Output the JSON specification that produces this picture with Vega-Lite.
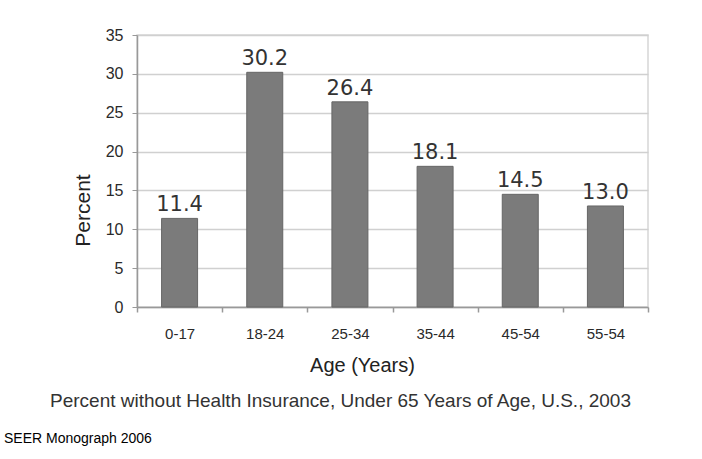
{
  "$schema": "https://vega.github.io/schema/vega-lite/v6.json",
  "width": 511,
  "height": 272,
  "autosize": {"type": "none"},
  "padding": {"left": 137, "top": 35, "right": 54, "bottom": 152},
  "background": "white",
  "config": {
    "view": {"stroke": "#d6d6d6", "strokeWidth": 1.5}
  },
  "title": {
    "text": "SEER Monograph 2006",
    "orient": "bottom",
    "anchor": "start",
    "frame": "group",
    "dx": -133,
    "offset": 22,
    "font": "Liberation Sans",
    "fontSize": 14,
    "fontWeight": "normal",
    "color": "#000000"
  },
  "data": {
    "values": [
      {"age": "0-17", "pct": 11.4},
      {"age": "18-24", "pct": 30.2},
      {"age": "25-34", "pct": 26.4},
      {"age": "35-44", "pct": 18.1},
      {"age": "45-54", "pct": 14.5},
      {"age": "55-54", "pct": 13.0}
    ]
  },
  "encoding": {
    "y": {
      "field": "pct", "type": "quantitative",
      "scale": {"domain": [0, 35]},
      "axis": {
        "values": [0, 5, 10, 15, 20, 25, 30, 35],
        "labelOverlap": false,
        "labelFont": "Liberation Sans",
        "labelFontSize": 16,
        "labelColor": "#2a2a2a",
        "labelPadding": 9,
        "ticks": true,
        "tickSize": 5,
        "tickColor": "#999999",
        "domain": true,
        "domainColor": "#999999",
        "domainWidth": 1.5,
        "grid": true,
        "gridColor": "#d0d0d0",
        "gridWidth": 1.5,
        "title": "Percent",
        "titleFont": "Liberation Sans",
        "titleFontSize": 21,
        "titleFontWeight": "normal",
        "titleColor": "#222222",
        "titleX": -54,
        "titleY": 175,
        "titleBaseline": "middle"
      }
    }
  },
  "layer": [
    {
      "mark": {"type": "bar", "size": 36, "color": "#7b7b7b", "stroke": "#666666", "strokeWidth": 1},
      "encoding": {
        "x": {
          "field": "age", "type": "nominal", "sort": null,
          "scale": {"paddingInner": 0, "paddingOuter": 0},
          "axis": {
            "orient": "bottom",
            "labelAngle": 0,
            "labelFont": "Liberation Sans",
            "labelFontSize": 15,
            "labelColor": "#2a2a2a",
            "labelBaseline": "middle",
            "labelPadding": 21,
            "ticks": true,
            "tickBand": "extent",
            "tickSize": 5,
            "tickWidth": 1.5,
            "tickColor": "#999999",
            "domain": true,
            "domainColor": "#999999",
            "domainWidth": 1.5,
            "grid": false,
            "title": "Age (Years)",
            "titleFont": "Liberation Sans",
            "titleFontSize": 20,
            "titleFontWeight": "normal",
            "titleColor": "#222222",
            "titleX": 225,
            "titleY": 58,
            "titleBaseline": "middle"
          }
        }
      }
    },
    {
      "mark": {"type": "text", "baseline": "bottom", "dy": -3, "font": "DejaVu Sans", "fontSize": 21, "color": "#333333"},
      "encoding": {
        "x": {
          "field": "age", "type": "nominal", "sort": null,
          "axis": {
            "orient": "bottom",
            "labels": false,
            "ticks": false,
            "domain": false,
            "grid": false,
            "title": "Percent without Health Insurance, Under 65 Years of Age, U.S., 2003",
            "titleFont": "Liberation Sans",
            "titleFontSize": 19,
            "titleFontWeight": "normal",
            "titleColor": "#333333",
            "titleX": 203,
            "titleY": 93,
            "titleBaseline": "middle"
          }
        },
        "text": {"field": "pct", "type": "quantitative", "format": ".1f"}
      }
    }
  ],
  "resolve": {"axis": {"x": "independent"}}
}
